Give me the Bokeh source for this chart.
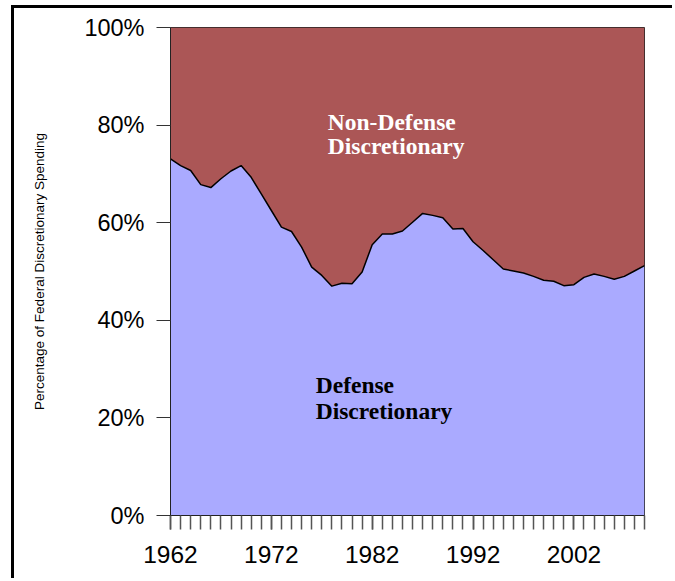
from bokeh.plotting import figure
from bokeh.models import FixedTicker, Label, CustomJSTickFormatter
from bokeh.embed import file_html
from bokeh.resources import INLINE

years = list(range(1962, 2010))
defense = [73.1, 71.7, 70.7, 67.8, 67.2, 69.0, 70.6, 71.7, 69.3, 65.9,
           62.5, 59.1, 58.2, 55.0, 50.9, 49.2, 47.0, 47.6, 47.5, 49.9,
           55.5, 57.7, 57.7, 58.3, 60.1, 61.9, 61.5, 61.0, 58.7, 58.8,
           56.1, 54.3, 52.4, 50.5, 50.1, 49.7, 49.0, 48.2, 48.0, 47.1,
           47.3, 48.8, 49.5, 49.0, 48.4, 49.0, 50.1, 51.2]
nondefense = [round(100 - d, 1) for d in defense]
top = [d + n for d, n in zip(defense, nondefense)]
x_tick_labels = [1962, 1972, 1982, 1992, 2002]
y_ticks = [0, 20, 40, 60, 80, 100]

p = figure(width=661, height=573, output_backend="svg", toolbar_location=None,
           x_range=(1962, 2009), y_range=(0, 100),
           min_border_left=156, min_border_right=31,
           min_border_top=19, min_border_bottom=66)
p.styles = {"border-left": "3px solid black", "border-top": "3px solid black",
            "margin-left": "11px", "margin-top": "5px"}
p.grid.visible = False
p.background_fill_color = "white"
p.border_fill_color = "white"
p.outline_line_color = "#222222"
p.outline_line_width = 1

p.varea(x=years, y1=0, y2=defense, fill_color="#AAAAFF")
p.varea(x=years, y1=defense, y2=top, fill_color="#AB5656")
p.line(x=years, y=defense, line_color="black", line_width=1.5)

# y axis
ya = p.yaxis[0]
ya.ticker = FixedTicker(ticks=y_ticks)
ya.formatter = CustomJSTickFormatter(code="return tick.toFixed(0) + '%';")
ya.major_tick_out = 14
ya.major_tick_in = 0
ya.minor_tick_out = 0
ya.minor_tick_in = 0
ya.major_tick_line_color = "#333333"
ya.axis_line_color = "#222222"
ya.major_label_text_font = "Liberation Sans"
ya.major_label_text_font_size = "23.5px"
ya.major_label_text_color = "black"
ya.major_label_standoff = 12
ya.axis_label = "Percentage of Federal Discretionary Spending"
ya.axis_label_text_font = "Liberation Sans"
ya.axis_label_text_font_size = "13.5px"
ya.axis_label_text_font_style = "normal"
ya.axis_label_text_color = "black"
ya.axis_label_standoff = 34

# x axis
xa = p.xaxis[0]
xa.ticker = FixedTicker(ticks=x_tick_labels, minor_ticks=years)
xa.major_tick_out = 14
xa.major_tick_in = 0
xa.minor_tick_out = 14
xa.minor_tick_in = 0
xa.major_tick_line_color = "#555555"
xa.minor_tick_line_color = "#555555"
xa.major_tick_line_width = 1.5
xa.minor_tick_line_width = 1.5
xa.axis_line_color = "#222222"
xa.major_label_text_font = "Liberation Sans"
xa.major_label_text_font_size = "24.5px"
xa.major_label_text_color = "black"
xa.major_label_standoff = 16

for txt, x, y, col in [("Non-Defense", 1977.6, 80.7, "white"),
                       ("Discretionary", 1977.6, 75.8, "white"),
                       ("Defense", 1976.4, 26.8, "black"),
                       ("Discretionary", 1976.4, 21.5, "black")]:
    p.add_layout(Label(x=x, y=y, text=txt, text_color=col,
                       text_font="Liberation Serif", text_font_style="bold",
                       text_font_size="23.5px", text_align="left",
                       text_baseline="alphabetic"))

open("out.html", "w").write(file_html(p, INLINE))
